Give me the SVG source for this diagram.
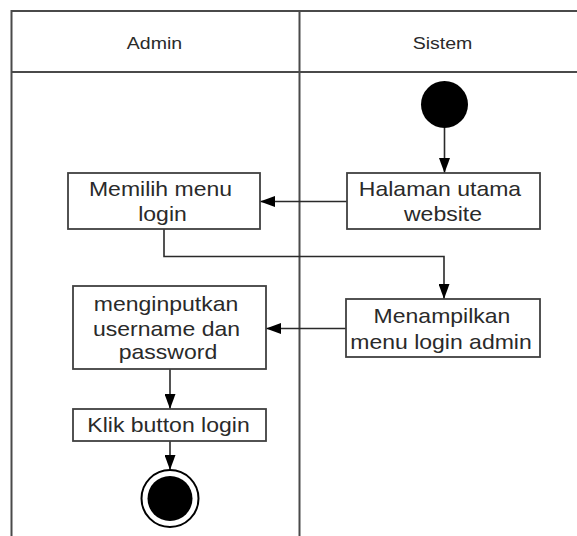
<svg xmlns="http://www.w3.org/2000/svg" width="577" height="536" viewBox="0 0 577 536">
<defs>
<style>
.lane{fill:none;stroke:#4a4a4a;stroke-width:2}
.box{fill:#fff;stroke:#404040;stroke-width:1.8}
.t{font-family:"Liberation Sans",Arial,sans-serif;font-size:20px;fill:#2a2a2a;text-anchor:middle}
.h{font-family:"Liberation Sans",Arial,sans-serif;font-size:17px;fill:#2a2a2a;text-anchor:middle}
.c{fill:none;stroke:#2a2a2a;stroke-width:1.6}
</style>
<marker id="arr" markerUnits="userSpaceOnUse" markerWidth="15" markerHeight="11" refX="15" refY="5.5" orient="auto">
<path d="M0,0 L15,5.5 L0,11 z" fill="#000"/>
</marker>
</defs>
<rect width="577" height="536" fill="#fff"/>
<g id="swimlanes">
<path class="lane" d="M11.5,536 V11 H577"/>
<path class="lane" d="M11.5,72 H577"/>
<path class="lane" d="M299.5,11 V536"/>
<text class="h" transform="translate(154.5,49) scale(1.15,1)">Admin</text>
<text class="h" transform="translate(442.5,49) scale(1.15,1)">Sistem</text>
</g>
<g id="connectors">
<path class="c" d="M444.5,128 V173" marker-end="url(#arr)"/>
<path class="c" d="M347,201.5 H260" marker-end="url(#arr)"/>
<path class="c" d="M164,229 V256.5 H444 V299" marker-end="url(#arr)"/>
<path class="c" d="M346,328.5 H266" marker-end="url(#arr)"/>
<path class="c" d="M170,369 V409" marker-end="url(#arr)"/>
<path class="c" d="M170,441 V470" marker-end="url(#arr)"/>
</g>
<g id="start">
<circle cx="444.5" cy="104.5" r="23.5" fill="#000"/>
</g>
<g id="halaman">
<rect class="box" x="347" y="173" width="193" height="56"/>
<text class="t" transform="translate(440,196) scale(1.15,1)">Halaman utama</text>
<text class="t" transform="translate(443,221) scale(1.15,1)">website</text>
</g>
<g id="memilih">
<rect class="box" x="68" y="173" width="192" height="56"/>
<text class="t" transform="translate(160.5,196) scale(1.15,1)">Memilih menu</text>
<text class="t" transform="translate(162.5,221) scale(1.15,1)">login</text>
</g>
<g id="menampilkan">
<rect class="box" x="346" y="299" width="194" height="58"/>
<text class="t" transform="translate(442,323) scale(1.15,1)">Menampilkan</text>
<text class="t" transform="translate(441,348.5) scale(1.15,1)">menu login admin</text>
</g>
<g id="menginputkan">
<rect class="box" x="73" y="286" width="193" height="83"/>
<text class="t" transform="translate(166,311) scale(1.15,1)">menginputkan</text>
<text class="t" transform="translate(166.5,335.5) scale(1.15,1)">username dan</text>
<text class="t" transform="translate(168,359) scale(1.15,1)">password</text>
</g>
<g id="klik">
<rect class="box" x="73" y="409" width="193" height="32"/>
<text class="t" transform="translate(168.5,432) scale(1.15,1)">Klik button login</text>
</g>
<g id="end">
<circle cx="170" cy="498.5" r="28.5" fill="#fff" stroke="#000" stroke-width="2"/>
<circle cx="170" cy="498.5" r="22.5" fill="#000"/>
</g>
</svg>
